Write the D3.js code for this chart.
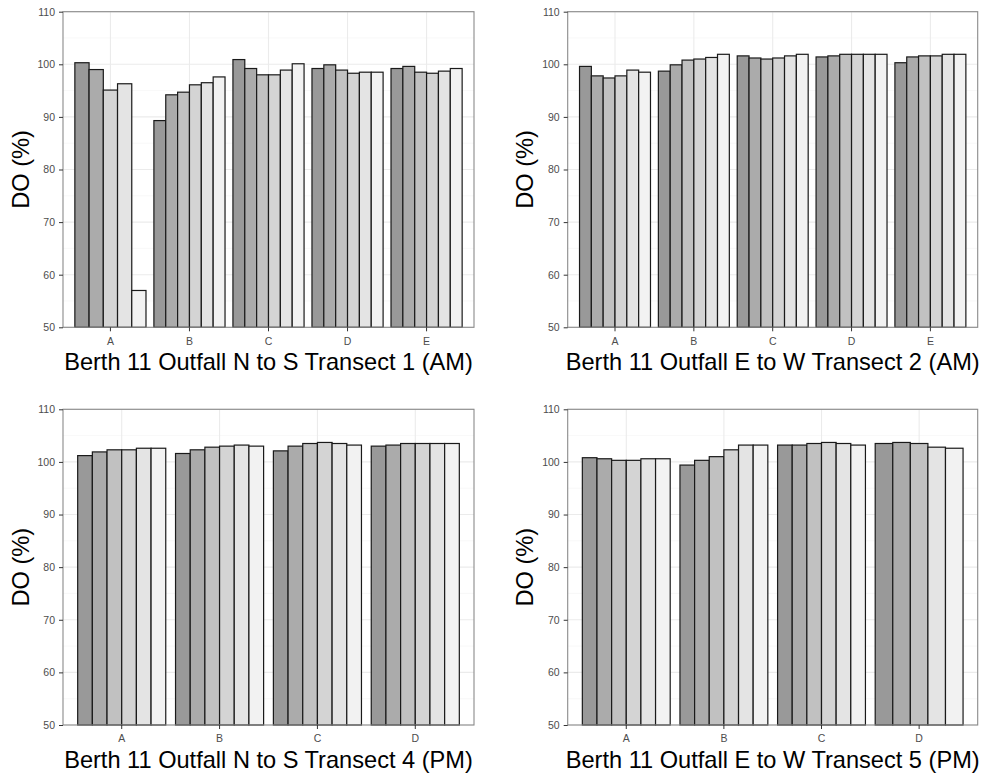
<!DOCTYPE html>
<html>
<head>
<meta charset="utf-8">
<script src="https://cdn.jsdelivr.net/npm/d3@7"></script>
<style>
  body { margin: 0; background: #fff; }
  svg { display: block; font-family: "Liberation Sans", Arial, sans-serif; }
</style>
</head>
<body>
<div id="chart"></div>
<script>
// categories and fill levels
const catsAM = ["A", "B", "C", "D", "E"];
const catsPM = ["A", "B", "C", "D"];
const fillLevels = ["1", "2", "3", "4", "5", "6"];
const fillColors = ["#999999", "#ababab", "#c1c1c1", "#d4d4d4", "#e4e4e4", "#f2f2f2"];

// DO (%) per category, one value per fill level (null = no bar)
const transect1 = [
    [100.3, 99.0, null, 95.1, 96.3, 57.0],
    [89.3, 94.2, 94.7, 96.1, 96.5, 97.6],
    [100.9, 99.2, 98.0, 98.0, 98.9, 100.1],
    [99.2, 99.9, 98.9, 98.3, 98.5, 98.5],
    [99.2, 99.6, 98.5, 98.3, 98.7, 99.2]
];
const transect2 = [
    [99.6, 97.8, 97.4, 97.8, 98.9, 98.5],
    [98.7, 99.9, 100.8, 101.0, 101.3, 101.9],
    [101.6, 101.2, 101.0, 101.2, 101.6, 101.9],
    [101.4, 101.6, 101.9, 101.9, 101.9, 101.9],
    [100.3, 101.4, 101.6, 101.6, 101.9, 101.9]
];
const transect4 = [
    [101.2, 101.9, 102.3, 102.3, 102.6, 102.6],
    [101.6, 102.3, 102.8, 103.0, 103.2, 103.0],
    [102.1, 103.0, 103.5, 103.7, 103.5, 103.2],
    [103.0, 103.2, 103.5, 103.5, 103.5, 103.5]
];
const transect5 = [
    [100.8, 100.6, 100.3, 100.3, 100.6, 100.6],
    [99.4, 100.3, 101.0, 102.3, 103.2, 103.2],
    [103.2, 103.2, 103.5, 103.7, 103.5, 103.2],
    [103.5, 103.7, 103.5, null, 102.8, 102.6]
];
const yTicks = [50, 60, 70, 80, 90, 100, 110];
const yMinor = [55, 65, 75, 85, 95, 105];
const titles = [
    "Berth 11 Outfall N to S Transect 1 (AM)",
    "Berth 11 Outfall E to W Transect 2 (AM)",
    "Berth 11 Outfall N to S Transect 4 (PM)",
    "Berth 11 Outfall E to W Transect 5 (PM)"
];

const W = 988, H = 776;
const svg = d3.select("#chart").append("svg")
    .attr("width", W).attr("height", H);

// panel boxes (layout)
const panels = [
    { cats: catsAM, values: transect1, title: titles[0], x0: 63, x1: 474, y0: 11.7, y1: 327.3 },
    { cats: catsAM, values: transect2, title: titles[1], x0: 567.7, x1: 977.7, y0: 11.7, y1: 327.3 },
    { cats: catsPM, values: transect4, title: titles[2], x0: 63, x1: 474, y0: 409.3, y1: 725 },
    { cats: catsPM, values: transect5, title: titles[3], x0: 567.7, x1: 977.7, y0: 409.3, y1: 725 }
];

const color = d3.scaleOrdinal().domain(fillLevels).range(fillColors);

panels.forEach(function (p) {
    const g = svg.append("g");

    // discrete x scale like ggplot: 0.6 expansion, bars 0.9 wide
    const x = d3.scaleBand()
        .domain(p.cats)
        .range([p.x0, p.x1])
        .paddingInner(0.1)
        .paddingOuter(0.15);
    const y = d3.scaleLinear().domain([50, 110]).range([p.y1, p.y0]);

    // grid
    g.selectAll(".minor").data(yMinor).join("line")
        .attr("x1", p.x0).attr("x2", p.x1)
        .attr("y1", d => y(d)).attr("y2", d => y(d))
        .attr("stroke", "#f4f4f4").attr("stroke-width", 0.6);
    g.selectAll(".major").data(yTicks).join("line")
        .attr("x1", p.x0).attr("x2", p.x1)
        .attr("y1", d => y(d)).attr("y2", d => y(d))
        .attr("stroke", "#ebebeb").attr("stroke-width", 1.1);
    g.selectAll(".vgrid").data(p.cats).join("line")
        .attr("x1", d => x(d) + x.bandwidth() / 2).attr("x2", d => x(d) + x.bandwidth() / 2)
        .attr("y1", p.y0).attr("y2", p.y1)
        .attr("stroke", "#ebebeb").attr("stroke-width", 1.1);

    // bars: dodge among levels that have a value
    p.cats.forEach(function (cat, i) {
        const row = fillLevels
            .map((lv, j) => ({ level: lv, value: p.values[i][j] }))
            .filter(d => d.value !== null);
        const inner = d3.scaleBand()
            .domain(row.map(d => d.level))
            .range([x(cat), x(cat) + x.bandwidth()]);
        g.selectAll(null).data(row).join("rect")
            .attr("x", d => inner(d.level))
            .attr("y", d => y(d.value))
            .attr("width", inner.bandwidth())
            .attr("height", d => y(50) - y(d.value))
            .attr("fill", d => color(d.level))
            .attr("stroke", "#1a1a1a")
            .attr("stroke-width", 1.2);
    });

    // panel border
    g.append("rect")
        .attr("x", p.x0).attr("y", p.y0)
        .attr("width", p.x1 - p.x0).attr("height", p.y1 - p.y0)
        .attr("fill", "none").attr("stroke", "#8a8a8a").attr("stroke-width", 1.1);

    // axes
    const yAxis = g.append("g")
        .attr("transform", `translate(${p.x0},0)`)
        .call(d3.axisLeft(y).tickValues(yTicks).tickSize(4).tickPadding(4));
    const xAxis = g.append("g")
        .attr("transform", `translate(0,${p.y1})`)
        .call(d3.axisBottom(x).tickSize(4).tickPadding(6));
    [yAxis, xAxis].forEach(function (a) {
        a.select(".domain").remove();
        a.selectAll(".tick line").attr("stroke", "#333");
        a.selectAll(".tick text")
            .attr("fill", "#4d4d4d")
            .style("font-size", "10.5px")
            .style("font-family", "'Liberation Sans', Arial, sans-serif");
    });

    // axis titles
    g.append("text")
        .attr("x", (p.x0 + p.x1) / 2)
        .attr("y", p.y1 + 42.7)
        .attr("text-anchor", "middle")
        .style("font-size", "23.6px")
        .attr("fill", "#000")
        .text(p.title);
    g.append("text")
        .attr("transform", `translate(${p.x0 - 34.5},${(p.y0 + p.y1) / 2}) rotate(-90)`)
        .attr("text-anchor", "middle")
        .style("font-size", "23.6px")
        .attr("fill", "#000")
        .text("DO (%)");
});
</script>
</body>
</html>
